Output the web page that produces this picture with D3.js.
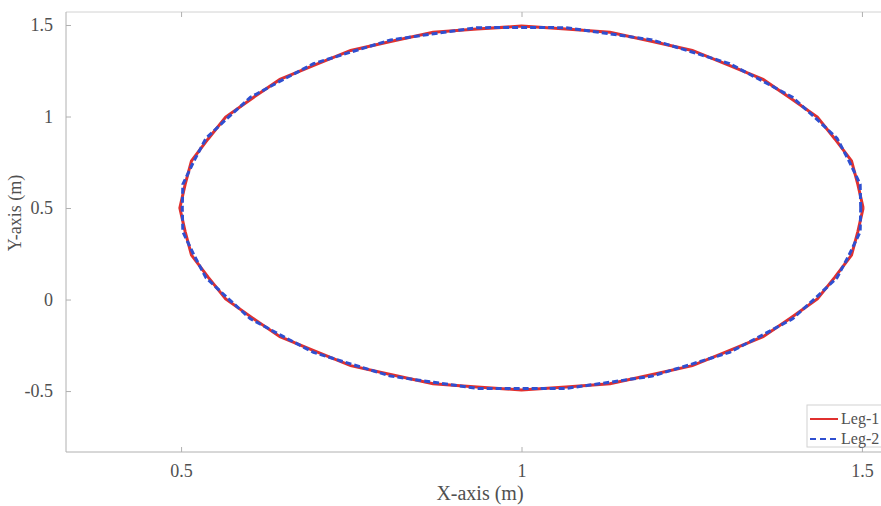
<!DOCTYPE html>
<html>
<head>
<meta charset="utf-8">
<script src="https://cdn.jsdelivr.net/npm/d3@7"></script>
<style>
  body { margin: 0; background: #fff; }
  svg { display: block; }
  text { font-family: "Liberation Serif", "Times New Roman", serif; fill: #505050; }
</style>
</head>
<body>
<svg id="chart" width="881" height="506"></svg>
<script>
// series (metres)
const redX = [1.5018, 1.4940, 1.4847, 1.4603, 1.4345, 1.3953, 1.3548, 1.3033, 1.2509, 1.1906, 1.1299, 1.0651,
  1.0000, 0.9349, 0.8701, 0.8094, 0.7491, 0.6967, 0.6452, 0.6047, 0.5655, 0.5397, 0.5153, 0.5060,
  0.4982, 0.5060, 0.5153, 0.5397, 0.5655, 0.6047, 0.6452, 0.6967, 0.7491, 0.8094, 0.8701, 0.9349,
  1.0000, 1.0651, 1.1299, 1.1906, 1.2509, 1.3033, 1.3548, 1.3953, 1.4345, 1.4603, 1.4847, 1.4940, 1.5018];
const redY = [0.5000, 0.6287, 0.7572, 0.8774, 0.9970, 1.1003, 1.2028, 1.2822, 1.3609, 1.4109, 1.4602, 1.4775,
  1.4940, 1.4775, 1.4602, 1.4109, 1.3609, 1.2822, 1.2028, 1.1003, 0.9970, 0.8774, 0.7572, 0.6287,
  0.5000, 0.3713, 0.2428, 0.1226, 0.0030, -0.1003, -0.2028, -0.2822, -0.3609, -0.4109, -0.4602, -0.4775,
  -0.4940, -0.4775, -0.4602, -0.4109, -0.3609, -0.2822, -0.2028, -0.1003, 0.0030, 0.1226, 0.2428, 0.3713, 0.5000];
const blueX = [1.4982, 1.4974, 1.4813, 1.4635, 1.4315, 1.3981, 1.3524, 1.3055, 1.2491, 1.1920, 1.1289, 1.0655,
  1.0000, 0.9345, 0.8711, 0.8080, 0.7509, 0.6945, 0.6476, 0.6019, 0.5685, 0.5365, 0.5187, 0.5026,
  0.5018, 0.5026, 0.5187, 0.5365, 0.5685, 0.6019, 0.6476, 0.6945, 0.7509, 0.8080, 0.8711, 0.9345,
  1.0000, 1.0655, 1.1289, 1.1920, 1.2491, 1.3055, 1.3524, 1.3981, 1.4315, 1.4635, 1.4813, 1.4974, 1.4982];
const blueY = [0.5000, 0.6297, 0.7552, 0.8804, 0.9930, 1.1051, 1.1972, 1.2886, 1.3539, 1.4183, 1.4524, 1.4855,
  1.4860, 1.4855, 1.4524, 1.4183, 1.3539, 1.2886, 1.1972, 1.1051, 0.9930, 0.8804, 0.7552, 0.6297,
  0.5000, 0.3703, 0.2448, 0.1196, 0.0070, -0.1051, -0.1972, -0.2886, -0.3539, -0.4183, -0.4524, -0.4855,
  -0.4860, -0.4855, -0.4524, -0.4183, -0.3539, -0.2886, -0.1972, -0.1051, 0.0070, 0.1196, 0.2448, 0.3703, 0.5000];

const xTicks = [0.5, 1, 1.5];
const yTicks = [-0.5, 0, 0.5, 1, 1.5];
const legendNames = ["Leg-1", "Leg-2"];

const svg = d3.select("#chart");
const pLeft = 66, pTop = 12, pRight = 881, pBottom = 452;

const x = d3.scaleLinear().domain([0.331, 1.528]).range([pLeft, pRight]);
const y = d3.scaleLinear().domain([-0.833, 1.571]).range([pBottom, pTop]);

// box
svg.append("line").attr("x1", pLeft).attr("x2", pRight).attr("y1", pTop).attr("y2", pTop)
  .attr("stroke", "#d2d2d2").attr("stroke-width", 1);
svg.append("line").attr("x1", pLeft).attr("x2", pRight).attr("y1", pBottom).attr("y2", pBottom)
  .attr("stroke", "#b0b0b0").attr("stroke-width", 1);
svg.append("line").attr("x1", pLeft).attr("x2", pLeft).attr("y1", pTop).attr("y2", pBottom)
  .attr("stroke", "#b0b0b0").attr("stroke-width", 1);

const fmt = d => String(d);

const xAxis = svg.append("g").attr("transform", `translate(0,${pBottom})`)
  .call(d3.axisBottom(x).tickValues(xTicks).tickFormat(fmt).tickSizeInner(-5).tickSizeOuter(0).tickPadding(12));
const xTop = svg.append("g").attr("transform", `translate(0,${pTop})`)
  .call(d3.axisTop(x).tickValues(xTicks).tickFormat("").tickSizeInner(-5).tickSizeOuter(0));
const yAxis = svg.append("g").attr("transform", `translate(${pLeft},0)`)
  .call(d3.axisLeft(y).tickValues(yTicks).tickFormat(fmt).tickSizeInner(-5).tickSizeOuter(0).tickPadding(13));

[xAxis, xTop, yAxis].forEach(g => {
  g.select(".domain").remove();
  g.attr("font-family", null);
  g.selectAll(".tick line").attr("stroke", "#b0b0b0");
  g.selectAll(".tick text").style("font-size", "18px").attr("fill", "#505050");
});

// axis labels
svg.append("text").attr("x", 480).attr("y", 500)
  .attr("text-anchor", "middle").style("font-size", "20px").text("X-axis (m)");
svg.append("text").attr("transform", "translate(21,213) rotate(-90)")
  .attr("text-anchor", "middle").style("font-size", "18px").text("Y-axis (m)");

// curves
const red = redX.map((v, i) => [v, redY[i]]);
const blue = blueX.map((v, i) => [v, blueY[i]]);
const line = d3.line().x(d => x(d[0])).y(d => y(d[1]));

svg.append("path").datum(red).attr("d", line)
  .attr("fill", "none").attr("stroke", "#e0302f").attr("stroke-width", 3);
svg.append("path").datum(blue).attr("d", line)
  .attr("fill", "none").attr("stroke", "#2f4fd0").attr("stroke-width", 3)
  .attr("stroke-dasharray", "6,3");

// legend
const lg = svg.append("g");
lg.append("rect").attr("x", 807).attr("y", 405).attr("width", 90).attr("height", 42)
  .attr("fill", "#fff").attr("stroke", "#d2d2d2");
const styles = [{ c: "#e0302f", dash: null }, { c: "#2f4fd0", dash: "6,4" }];
legendNames.forEach((name, i) => {
  const yy = 419 + i * 20;
  lg.append("line").attr("x1", 810).attr("x2", 838).attr("y1", yy).attr("y2", yy)
    .attr("stroke", styles[i].c).attr("stroke-width", 2).attr("stroke-dasharray", styles[i].dash);
  lg.append("text").attr("x", 841).attr("y", yy + 5).style("font-size", "16px")
    .attr("fill", "#3a3a3a").text(name);
});
</script>
</body>
</html>
